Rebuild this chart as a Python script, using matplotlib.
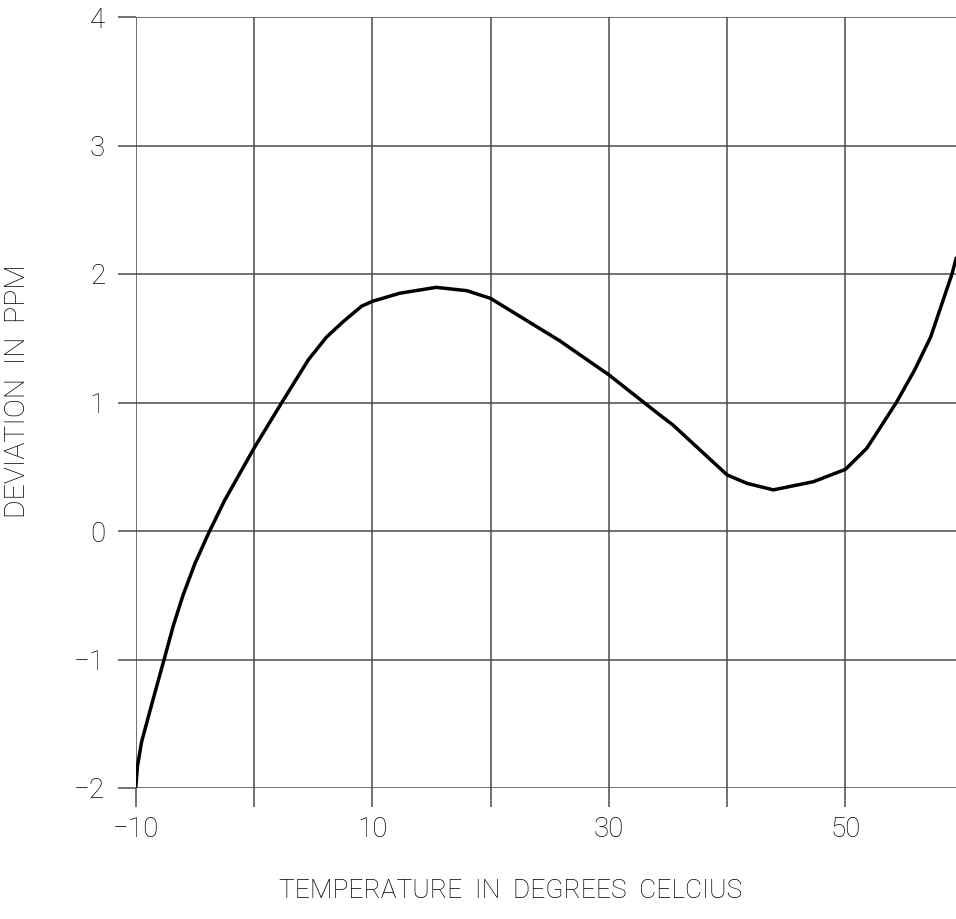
import numpy as np
import matplotlib.pyplot as plt

# curve (temperature in C, deviation in ppm)
temp = [-10, -9.85, -9.5, -9, -8.5, -7.6, -6.8, -6, -5, -4, -3.75, -2.5, 0,
        2.35, 4.6, 6.14, 7.55, 9.1, 10, 12.3, 15.4, 18, 20, 25.85, 30, 34.3,
        35.4, 38.3, 40, 41.7, 43.9, 47.3, 50, 51.8, 52.9, 54.3, 55.85, 57.2,
        59.0, 59.35]
dev = [-2, -1.83, -1.64, -1.47, -1.30, -1.0, -0.73, -0.50, -0.255, -0.05,
       0.0, 0.235, 0.644, 1.0, 1.333, 1.51, 1.63, 1.75, 1.787, 1.85, 1.896,
       1.87, 1.81, 1.48, 1.215, 0.903, 0.826, 0.58, 0.436, 0.37, 0.32,
       0.384, 0.48, 0.644, 0.80, 1.0, 1.254, 1.51, 2.0, 2.12]

x_ticks = [-10, 0, 10, 20, 30, 40, 50]
x_labels = ["\u221210", "", "10", "", "30", "", "50"]
y_ticks = [-2, -1, 0, 1, 2, 3, 4]
y_labels = ["\u22122", "\u22121", "0", "1", "2", "3", "4"]

plt.rcParams["font.family"] = ["Roboto", "DejaVu Sans"]
plt.rcParams["font.weight"] = "light"

W, H = 956, 919
fig = plt.figure(figsize=(W / 100, H / 100), dpi=100)
left, right, top, bottom = 135.7, 956, 17, 788
ax = fig.add_axes([left / W, 1 - bottom / H, (right - left) / W, (bottom - top) / H])

grid_c = "#4a4a4a"
ax.plot(temp, dev, color="black", linewidth=2.5, solid_joinstyle="round", zorder=3)

ax.set_xticks(x_ticks)
ax.set_xticklabels(x_labels)
ax.set_yticks(y_ticks)
ax.set_yticklabels(y_labels)
ax.set_xlim(-10, -10 + (right - left) / 11.83)
ax.set_ylim(-2, 4)
ax.grid(True, color=grid_c, linewidth=1.1)
for s in ax.spines.values():
    s.set_visible(False)
ax.tick_params(axis="x", direction="out", length=13.5, width=1.1, color=grid_c,
               pad=7, labelsize=20)
ax.tick_params(axis="y", direction="out", length=13, width=1.1, color=grid_c,
               pad=9, labelsize=20)
for lab in ax.get_xticklabels() + ax.get_yticklabels():
    lab.set_fontweight("light")

fig.text(511 / W, 1 - 891 / H, "TEMPERATURE  IN  DEGREES  CELCIUS",
         ha="center", va="center", fontsize=19, fontweight="light")
fig.text(18 / W, 1 - 391 / H, "DEVIATION  IN  PPM", rotation=90,
         ha="center", va="center", fontsize=20.5, fontweight="light")

fig.savefig("out.png", dpi=100, facecolor="white")
